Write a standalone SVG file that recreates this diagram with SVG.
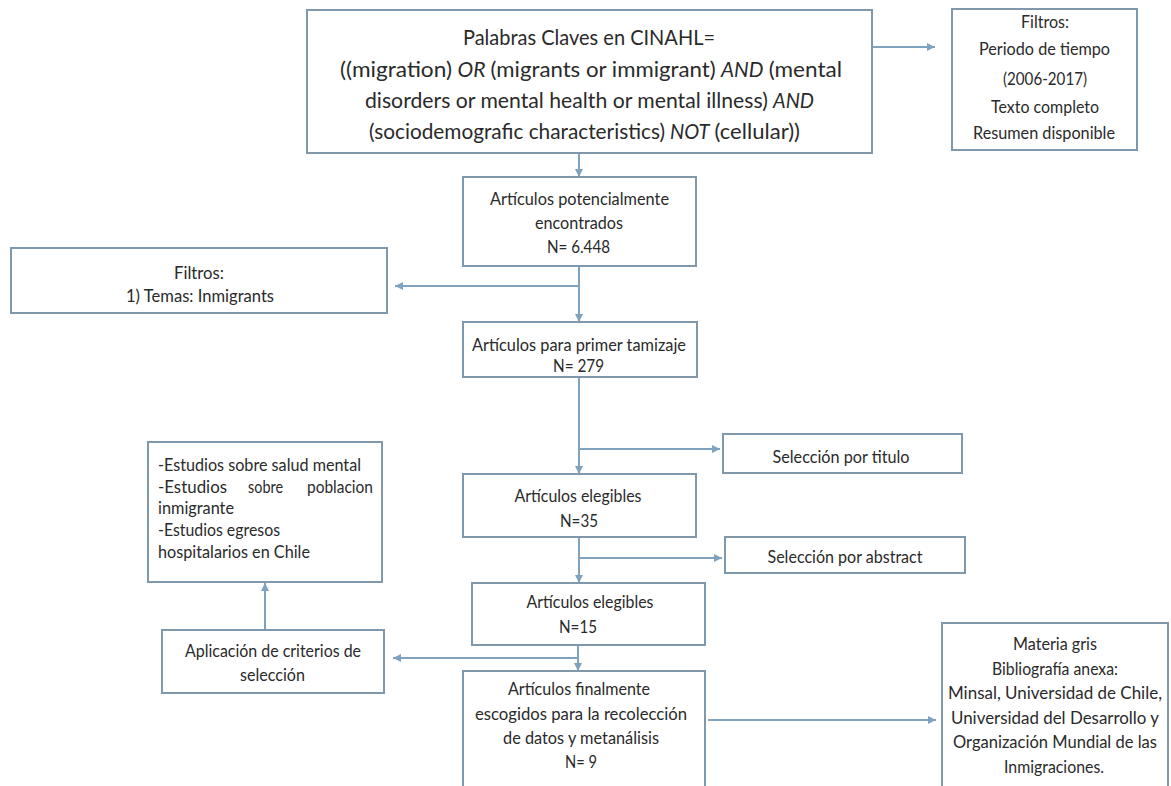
<svg xmlns="http://www.w3.org/2000/svg" width="1171" height="786" viewBox="0 0 1171 786">
<style>
.box{fill:#ffffff;stroke:#7f98ab;stroke-width:2}
.c{fill:none;stroke:#7fa2bf;stroke-width:2}
.t{font-family:Lato,"Liberation Sans",sans-serif;font-size:17.5px;fill:#2a2a2a;text-anchor:middle}
.s{font-family:Lato,"Liberation Sans",sans-serif;font-size:17.5px;fill:#2a2a2a;text-anchor:start}
.m{font-family:Lato,"Liberation Sans",sans-serif;font-size:21px;fill:#2a2a2a;text-anchor:start}
.mc{font-family:Lato,"Liberation Sans",sans-serif;font-size:21px;fill:#2a2a2a;text-anchor:middle}
.i{font-style:italic}
</style>
<defs>
<marker id="ah" markerUnits="userSpaceOnUse" markerWidth="8" markerHeight="8" refX="8" refY="4" orient="auto">
<path d="M0,0 L8,4 L0,8 z" fill="#7fa2bf"/>
</marker>
</defs>
<rect width="1171" height="786" fill="#ffffff"/>
<g id="connectors">
<line class="c" x1="579" y1="153" x2="579" y2="177" marker-end="url(#ah)"/>
<line class="c" x1="872" y1="47" x2="935" y2="47" marker-end="url(#ah)"/>
<line class="c" x1="579" y1="266" x2="579" y2="322" marker-end="url(#ah)"/>
<line class="c" x1="579" y1="286" x2="395" y2="286" marker-end="url(#ah)"/>
<line class="c" x1="579" y1="377" x2="579" y2="474" marker-end="url(#ah)"/>
<line class="c" x1="579" y1="449" x2="720" y2="449" marker-end="url(#ah)"/>
<line class="c" x1="579" y1="537" x2="579" y2="583" marker-end="url(#ah)"/>
<line class="c" x1="579" y1="558" x2="722" y2="558" marker-end="url(#ah)"/>
<line class="c" x1="578" y1="645" x2="578" y2="671" marker-end="url(#ah)"/>
<line class="c" x1="578" y1="658" x2="393" y2="658" marker-end="url(#ah)"/>
<line class="c" x1="265" y1="630" x2="265" y2="583" marker-end="url(#ah)"/>
<line class="c" x1="708" y1="720" x2="936" y2="720" marker-end="url(#ah)"/>
</g>
<g id="n-main">
<rect class="box" x="307" y="10" width="565" height="143"/>
<text class="mc" x="589" y="45" textLength="252" lengthAdjust="spacingAndGlyphs">Palabras Claves en CINAHL=</text>
<text class="m" x="340" y="77" textLength="112" lengthAdjust="spacingAndGlyphs">((migration)</text>
<text class="m i" x="457.5" y="77" textLength="28" lengthAdjust="spacingAndGlyphs">OR</text>
<text class="m" x="490.6" y="77" textLength="225" lengthAdjust="spacingAndGlyphs">(migrants or immigrant)</text>
<text class="m i" x="721" y="77" textLength="42.5" lengthAdjust="spacingAndGlyphs">AND</text>
<text class="m" x="768.7" y="77" textLength="73.3" lengthAdjust="spacingAndGlyphs">(mental</text>
<text class="m" x="365" y="108" textLength="402.8" lengthAdjust="spacingAndGlyphs">disorders or mental health or mental illness)</text>
<text class="m i" x="773" y="108" textLength="41" lengthAdjust="spacingAndGlyphs">AND</text>
<text class="m" x="369" y="139" textLength="296" lengthAdjust="spacingAndGlyphs">(sociodemografic characteristics)</text>
<text class="m i" x="670" y="139" textLength="39.5" lengthAdjust="spacingAndGlyphs">NOT</text>
<text class="m" x="714.5" y="139" textLength="85.5" lengthAdjust="spacingAndGlyphs">(cellular))</text>
</g>
<g id="n-filtros1">
<rect class="box" x="952" y="9" width="185" height="141"/>
<text class="t" x="1045" y="28" textLength="48" lengthAdjust="spacingAndGlyphs">Filtros:</text>
<text class="t" x="1044.5" y="55" textLength="131" lengthAdjust="spacingAndGlyphs">Periodo de tiempo</text>
<text class="t" x="1045" y="85" textLength="84" lengthAdjust="spacingAndGlyphs">(2006-2017)</text>
<text class="t" x="1045" y="113" textLength="108" lengthAdjust="spacingAndGlyphs">Texto completo</text>
<text class="t" x="1044" y="139" textLength="142" lengthAdjust="spacingAndGlyphs">Resumen disponible</text>
</g>
<g id="n-potenciales">
<rect class="box" x="463" y="177" width="233" height="89"/>
<text class="t" x="579.5" y="205" textLength="179" lengthAdjust="spacingAndGlyphs">Artículos potencialmente</text>
<text class="t" x="579" y="229" textLength="88" lengthAdjust="spacingAndGlyphs">encontrados</text>
<text class="t" x="578.5" y="253" textLength="63" lengthAdjust="spacingAndGlyphs">N= 6.448</text>
</g>
<g id="n-filtros2">
<rect class="box" x="11" y="248" width="376" height="65"/>
<text class="t" x="199" y="279" textLength="50" lengthAdjust="spacingAndGlyphs">Filtros:</text>
<text class="t" x="200" y="302" textLength="148" lengthAdjust="spacingAndGlyphs">1) Temas: Inmigrants</text>
</g>
<g id="n-tamizaje">
<rect class="box" x="463" y="322" width="234" height="55"/>
<text class="t" x="579" y="351" textLength="214" lengthAdjust="spacingAndGlyphs">Artículos para primer tamizaje</text>
<text class="t" x="578.5" y="372" textLength="51" lengthAdjust="spacingAndGlyphs">N= 279</text>
</g>
<g id="n-titulo">
<rect class="box" x="723" y="434" width="239" height="39"/>
<text class="t" x="841" y="463" textLength="137" lengthAdjust="spacingAndGlyphs">Selección por titulo</text>
</g>
<g id="n-elegibles35">
<rect class="box" x="463" y="474" width="233" height="63"/>
<text class="t" x="578" y="502" textLength="127" lengthAdjust="spacingAndGlyphs">Artículos elegibles</text>
<text class="t" x="579" y="527" textLength="38" lengthAdjust="spacingAndGlyphs">N=35</text>
</g>
<g id="n-abstract">
<rect class="box" x="725" y="537" width="240" height="36"/>
<text class="t" x="845" y="563" textLength="155" lengthAdjust="spacingAndGlyphs">Selección por abstract</text>
</g>
<g id="n-estudios">
<rect class="box" x="148" y="442" width="234" height="140"/>
<text class="s" x="158" y="471" textLength="203" lengthAdjust="spacingAndGlyphs">-Estudios sobre salud mental</text>
<text class="s" x="158" y="493" textLength="69" lengthAdjust="spacingAndGlyphs">-Estudios</text>
<text class="s" x="248" y="493" textLength="35" lengthAdjust="spacingAndGlyphs">sobre</text>
<text class="s" x="307" y="493" textLength="66" lengthAdjust="spacingAndGlyphs">poblacion</text>
<text class="s" x="158" y="514" textLength="76" lengthAdjust="spacingAndGlyphs">inmigrante</text>
<text class="s" x="158" y="536" textLength="122" lengthAdjust="spacingAndGlyphs">-Estudios egresos</text>
<text class="s" x="158" y="558" textLength="152" lengthAdjust="spacingAndGlyphs">hospitalarios en Chile</text>
</g>
<g id="n-elegibles15">
<rect class="box" x="472" y="583" width="233" height="62"/>
<text class="t" x="590" y="608" textLength="127" lengthAdjust="spacingAndGlyphs">Artículos elegibles</text>
<text class="t" x="578" y="633" textLength="38" lengthAdjust="spacingAndGlyphs">N=15</text>
</g>
<g id="n-aplicacion">
<rect class="box" x="162" y="630" width="222" height="63"/>
<text class="t" x="273" y="657" textLength="176" lengthAdjust="spacingAndGlyphs">Aplicación de criterios de</text>
<text class="t" x="272.5" y="681" textLength="65" lengthAdjust="spacingAndGlyphs">selección</text>
</g>
<g id="n-finalmente">
<rect class="box" x="463" y="671" width="242" height="130"/>
<text class="t" x="579" y="695" textLength="142" lengthAdjust="spacingAndGlyphs">Artículos finalmente</text>
<text class="t" x="581" y="720" textLength="212" lengthAdjust="spacingAndGlyphs">escogidos para la recolección</text>
<text class="t" x="581" y="744" textLength="156" lengthAdjust="spacingAndGlyphs">de datos y metanálisis</text>
<text class="t" x="581" y="768" textLength="32" lengthAdjust="spacingAndGlyphs">N= 9</text>
</g>
<g id="n-materia">
<rect class="box" x="942" y="623" width="226" height="180"/>
<text class="t" x="1055" y="650" textLength="84" lengthAdjust="spacingAndGlyphs">Materia gris</text>
<text class="t" x="1055" y="675" textLength="126" lengthAdjust="spacingAndGlyphs">Bibliografía anexa:</text>
<text class="t" x="1055" y="699" textLength="214" lengthAdjust="spacingAndGlyphs">Minsal, Universidad de Chile,</text>
<text class="t" x="1055" y="724" textLength="208" lengthAdjust="spacingAndGlyphs">Universidad del Desarrollo y</text>
<text class="t" x="1055" y="748" textLength="204" lengthAdjust="spacingAndGlyphs">Organización Mundial de las</text>
<text class="t" x="1054" y="773" textLength="100" lengthAdjust="spacingAndGlyphs">Inmigraciones.</text>
</g>
</svg>
